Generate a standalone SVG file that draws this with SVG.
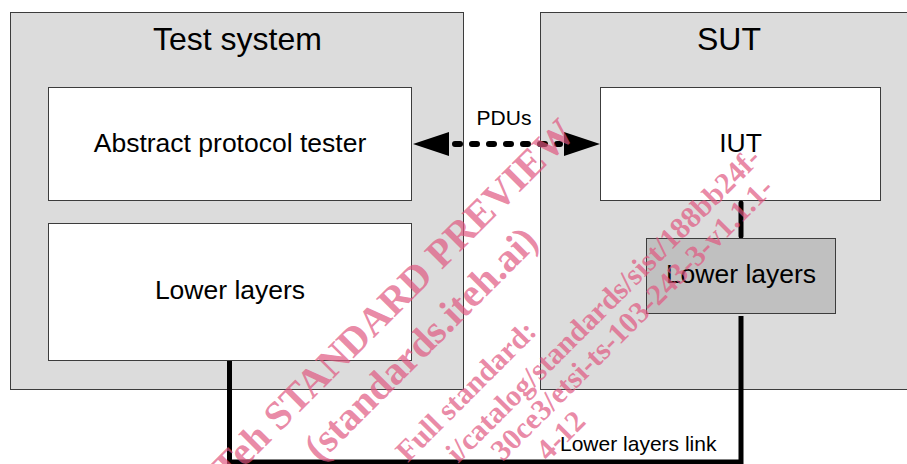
<svg xmlns="http://www.w3.org/2000/svg" width="907" height="464" viewBox="0 0 907 464">
<defs>
<style>
.frame{fill:#dcdcdc;stroke:#3c3c3c;stroke-width:1}
.box{fill:#ffffff;stroke:#3c3c3c;stroke-width:1}
.gbox{fill:#c0c0c0;stroke:#3c3c3c;stroke-width:1}
.t{font-family:"Liberation Sans",Arial,sans-serif;fill:#000;text-anchor:middle}
.big{font-size:32px}
.mid{font-size:26.5px}
.sm{font-size:21px}
.link{fill:none;stroke:#000;stroke-width:5;stroke-linecap:round}
.wm{font-family:"Liberation Serif","Times New Roman",serif;font-weight:bold;fill:#e0577f;fill-opacity:0.7;text-anchor:end}
</style>
</defs>
<rect width="907" height="464" fill="#ffffff"/>
<g id="test-system">
<rect class="frame" x="10.5" y="12.5" width="453" height="377"/>
<text class="t big" x="237.5" y="50">Test system</text>
</g>
<g id="sut">
<rect class="frame" x="540.5" y="12.5" width="380" height="377"/>
<text class="t big" x="729" y="50">SUT</text>
</g>
<g id="abstract-protocol-tester">
<rect class="box" x="48.5" y="87.5" width="363" height="113"/>
<text class="t mid" x="230" y="152">Abstract protocol tester</text>
</g>
<g id="lower-layers-test">
<rect class="box" x="48.5" y="223.5" width="363" height="137"/>
<text class="t mid" x="230" y="299">Lower layers</text>
</g>
<g id="iut">
<rect class="box" x="600.5" y="87.5" width="280" height="113"/>
<text class="t mid" x="740.5" y="152">IUT</text>
</g>
<g id="connectors">
<line class="link" x1="741" y1="203" x2="741" y2="236"/>
<path d="M229.5 361 V462 H741 V316" fill="none" stroke="#000" stroke-width="5"/>
<line x1="455" y1="144" x2="560" y2="144" stroke="#000" stroke-width="6" stroke-linecap="round" stroke-dasharray="5 12"/>
<polygon points="413,144 449,132 449,156" fill="#000"/>
<polygon points="600,144 564,132 564,156" fill="#000"/>
<text class="t sm" x="504" y="125">PDUs</text>
<text class="t sm" x="560" y="451" style="text-anchor:start">Lower layers link</text>
</g>
<g id="lower-layers-sut">
<rect class="gbox" x="646.5" y="238.5" width="189" height="75"/>
<text class="t mid" x="741" y="283">Lower layers</text>
</g>
<g id="watermark">
<text class="wm" font-size="40" transform="translate(577 135) rotate(-45)">iTeh STANDARD PREVIEW</text>
<text class="wm" font-size="40" transform="translate(540 243) rotate(-45)">(standards.iteh.ai)</text>
<text class="wm" font-size="30" transform="translate(538 333) rotate(-45)">Full standard:</text>
<text class="wm" font-size="30" transform="translate(762 160) rotate(-45)">i/catalog/standards/sist/188bb24f-</text>
<text class="wm" font-size="30" transform="translate(775 190) rotate(-45)">30ce3/etsi-ts-103-243-3-v1.1.1-</text>
<text class="wm" font-size="30" transform="translate(587 423) rotate(-45)">4-12</text>
</g>
</svg>
